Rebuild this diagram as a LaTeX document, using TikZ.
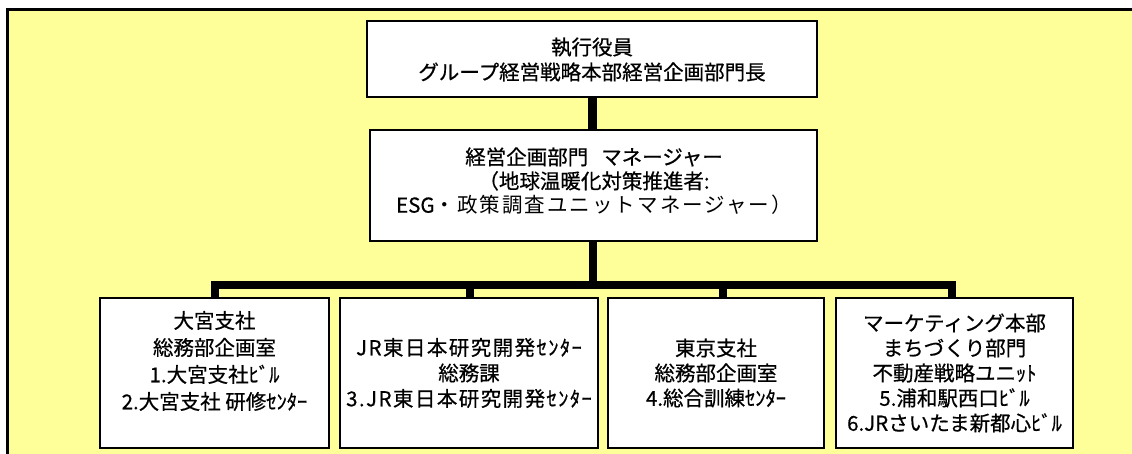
\documentclass[tikz,border=0pt]{standalone}
\usepackage{fontspec}
\newfontfamily\jp{Noto Sans CJK JP}[FakeBold=0.6]
\newfontfamily\jpwide{Noto Sans CJK JP}[LetterSpace=10]
\newfontfamily\jpwider{Noto Sans CJK JP}[LetterSpace=7,FakeBold=0.6]
\definecolor{bgyellow}{HTML}{FFFF99}
\tikzset{
  boxnode/.style={draw=black, line width=1.3pt, fill=white, inner sep=0pt},
  conn/.style={line width=8.5pt, draw=black, line join=miter},
  txt/.style={font=\jp\fontsize{20.5}{25}\selectfont, align=center, inner sep=0pt},
}
\begin{document}
\begin{tikzpicture}[x=1pt,y=-1pt]
\useasboundingbox (0,0) rectangle (1132,454);
\fill[white] (0,0) rectangle (1132,454);
\fill[bgyellow] (6,9) rectangle (1132,454);
\draw[line width=3pt] (7,454) -- (7,10) -- (1132,10);

% junction and drop points
\coordinate (j) at (593,285);
\coordinate (d1) at (215,298);
\coordinate (d2) at (470,298);
\coordinate (d3) at (723,298);
\coordinate (d4) at (952,298);

% connectors
\draw[conn] (592.5,97) coordinate (c1) -- (592.5,130) coordinate (c2);
\draw[conn] (593,241) coordinate (c3) -- (j);
\draw[conn] (d1) |- (j) -| (d4);
\draw[conn] (d2) -- (d2 |- j);
\draw[conn] (d3) -- (d3 |- j);

\node[boxnode, minimum width=450pt, minimum height=76pt] (top) at (592,59) {};
\node[boxnode, minimum width=447pt, minimum height=111pt] (mid) at (593.5,185.5) {};
\node[boxnode, minimum width=229pt, minimum height=150pt] (b1) at (214.5,373) {};
\node[boxnode, minimum width=258pt, minimum height=150pt] (b2) at (469,373) {};
\node[boxnode, minimum width=216pt, minimum height=150pt] (b3) at (716,373) {};
\node[boxnode, minimum width=237pt, minimum height=150pt] (b4) at (954.5,373) {};

\node[txt] (ttop) at (592,59.5) {執行役員\\グループ経営戦略本部経営企画部門長};
\node[txt, font=\jp\fontsize{20.5}{24}\selectfont] (tmid) at (594,181) {経営企画部門\hspace{13pt}マネージャー\\（地球温暖化対策推進者:\\ESG{\jpwide ・政策調査ユニットマネージャー）}};
\node[txt, font=\jp\fontsize{20.5}{27}\selectfont] (tb1) at (214.5,361) {大宮支社\\総務部企画室\\1.大宮支社ﾋﾞﾙ\\2.大宮支社 研修ｾﾝﾀｰ};
\node[txt, font=\jp\fontsize{20.5}{25.5}\selectfont] (tb2) at (469,373) {{\jpwider JR東日本研究開発ｾﾝﾀｰ}\\総務課\\{\jpwider 3.JR東日本研究開発ｾﾝﾀｰ}};
\node[txt, font=\jp\fontsize{20.5}{25}\selectfont] (tb3) at (716,373) {東京支社\\総務部企画室\\4.総合訓練ｾﾝﾀｰ};
\node[txt] (tb4) at (954.5,373) {マーケティング本部\\まちづくり部門\\不動産戦略ユニｯﾄ\\5.浦和駅西口ﾋﾞﾙ\\6.JRさいたま新都心ﾋﾞﾙ};
\end{tikzpicture}
\end{document}
